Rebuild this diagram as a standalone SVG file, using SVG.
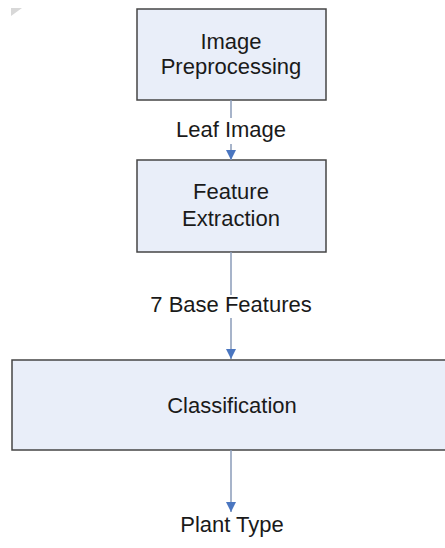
<svg xmlns="http://www.w3.org/2000/svg" width="445" height="548" viewBox="0 0 445 548">
<defs>
<style>
.box{fill:#e9eef9;stroke:#454545;stroke-width:1.5}
.lbl{font-family:"Liberation Sans",Arial,sans-serif;font-size:22px;fill:#1a1a1a;text-anchor:middle}
.ln{stroke:#8a9bb8;stroke-width:1.5;fill:none}
</style>
<marker id="ah" viewBox="0 0 10 10" refX="10" refY="5" markerWidth="11" markerHeight="10" markerUnits="userSpaceOnUse" orient="auto">
<path d="M0,0 L10,5 L0,10 Z" fill="#4a76c0"/>
</marker>
</defs>
<rect width="445" height="548" fill="#ffffff"/>
<polygon points="11,8 22,8 11,16" fill="#d8d8d8"/>
<g id="n1">
<rect class="box" x="137" y="9" width="189" height="91"/>
<text class="lbl" x="231" y="49">Image</text>
<text class="lbl" x="231" y="74">Preprocessing</text>
</g>
<g id="n2">
<rect class="box" x="137" y="160" width="189" height="92"/>
<text class="lbl" x="231" y="199">Feature</text>
<text class="lbl" x="231" y="226">Extraction</text>
</g>
<g id="n3">
<rect class="box" x="12" y="360" width="436" height="90"/>
<text class="lbl" x="232" y="413">Classification</text>
</g>
<g id="connectors">
<line class="ln" x1="231" y1="100" x2="231" y2="118"/>
<line class="ln" x1="231" y1="144" x2="231" y2="160" marker-end="url(#ah)"/>
<line class="ln" x1="231" y1="252" x2="231" y2="295"/>
<line class="ln" x1="231" y1="318" x2="231" y2="359" marker-end="url(#ah)"/>
<line class="ln" x1="231" y1="450" x2="231" y2="512" marker-end="url(#ah)"/>
</g>
<g id="labels">
<text class="lbl" x="231" y="137">Leaf Image</text>
<text class="lbl" x="231" y="312">7 Base Features</text>
<text class="lbl" x="232" y="532">Plant Type</text>
</g>
</svg>
